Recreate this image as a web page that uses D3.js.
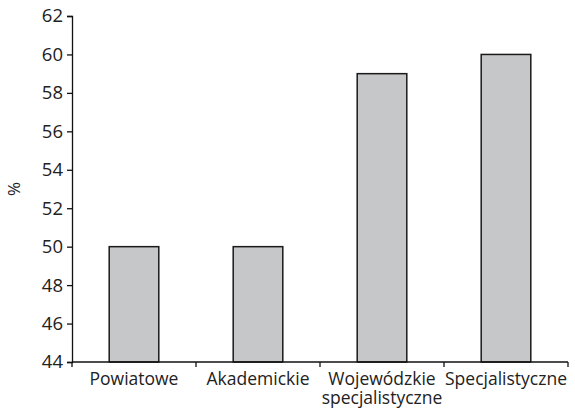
<!DOCTYPE html>
<html>
<head>
<meta charset="utf-8">
<script src="https://cdn.jsdelivr.net/npm/d3@7"></script>
<style>
  body { margin: 0; background: #fff; }
  svg text { font-family: "Open Sans", sans-serif; fill: #222; }
</style>
</head>
<body>
<div id="chart"></div>
<script>
const categories = ["Powiatowe", "Akademickie", "Wojewódzkie\nspecjalistyczne", "Specjalistyczne"];
const values = [50, 50, 59, 60];
const yTicks = [44, 46, 48, 50, 52, 54, 56, 58, 60, 62];

const wSvg = 575, hSvg = 409;
const margin = { top: 16, right: 7, bottom: 47, left: 72 };

const svg = d3.select("#chart").append("svg")
    .attr("width", wSvg)
    .attr("height", hSvg);

const x = d3.scaleBand()
    .domain(categories)
    .range([margin.left, wSvg - margin.right])
    .paddingInner(0.6)
    .paddingOuter(0.3);

const y = d3.scaleLinear()
    .domain([44, 62])
    .range([hSvg - margin.bottom, margin.top]);

// bars
svg.append("g").selectAll("rect")
    .data(categories)
    .enter()
    .append("rect")
        .attr("x", d => x(d))
        .attr("y", (d, i) => y(values[i]))
        .attr("width", x.bandwidth())
        .attr("height", (d, i) => y(44) - y(values[i]))
        .attr("fill", "#c6c7c9")
        .attr("stroke", "#1a1a1a")
        .attr("stroke-width", 1.5);

// y axis
const yAxis = svg.append("g")
    .attr("transform", `translate(${margin.left},0)`)
    .call(d3.axisLeft(y).tickValues(yTicks).tickSize(5).tickPadding(4).tickFormat(d3.format("d")));
yAxis.select(".domain").attr("stroke", "#111").attr("stroke-width", 1.3);
yAxis.selectAll(".tick line").attr("stroke", "#111").attr("stroke-width", 1.3);
yAxis.selectAll("text").style("font-size", "18.5px").attr("fill", "#222");

// x axis line with ticks at category boundaries
const bounds = d3.range(categories.length + 1).map(i => margin.left + i * (wSvg - margin.left - margin.right) / categories.length);
const xAxis = svg.append("g");
xAxis.append("line")
    .attr("x1", margin.left).attr("x2", wSvg - margin.right)
    .attr("y1", y(44)).attr("y2", y(44))
    .attr("stroke", "#111").attr("stroke-width", 1.3);
xAxis.selectAll(".bt")
    .data(bounds)
    .enter()
    .append("line")
        .attr("x1", d => d).attr("x2", d => d)
        .attr("y1", y(44)).attr("y2", y(44) + 5)
        .attr("stroke", "#111").attr("stroke-width", 1.3);

// category labels, one text per line
const labelLines = [];
categories.forEach(c => c.split("\n").forEach((l, k) => labelLines.push({ cat: c, text: l, k })));
xAxis.selectAll(".lbl")
    .data(labelLines)
    .enter()
    .append("text")
        .attr("text-anchor", "middle")
        .attr("x", d => x(d.cat) + x.bandwidth() / 2)
        .attr("y", d => y(44) + 23 + d.k * 19)
        .style("font-size", "17.5px")
        .text(d => d.text);

// y title
svg.append("text")
    .attr("transform", `translate(20,${(margin.top + hSvg - margin.bottom) / 2}) rotate(-90)`)
    .attr("text-anchor", "middle")
    .style("font-size", "17px")
    .text("%");
</script>
</body>
</html>
